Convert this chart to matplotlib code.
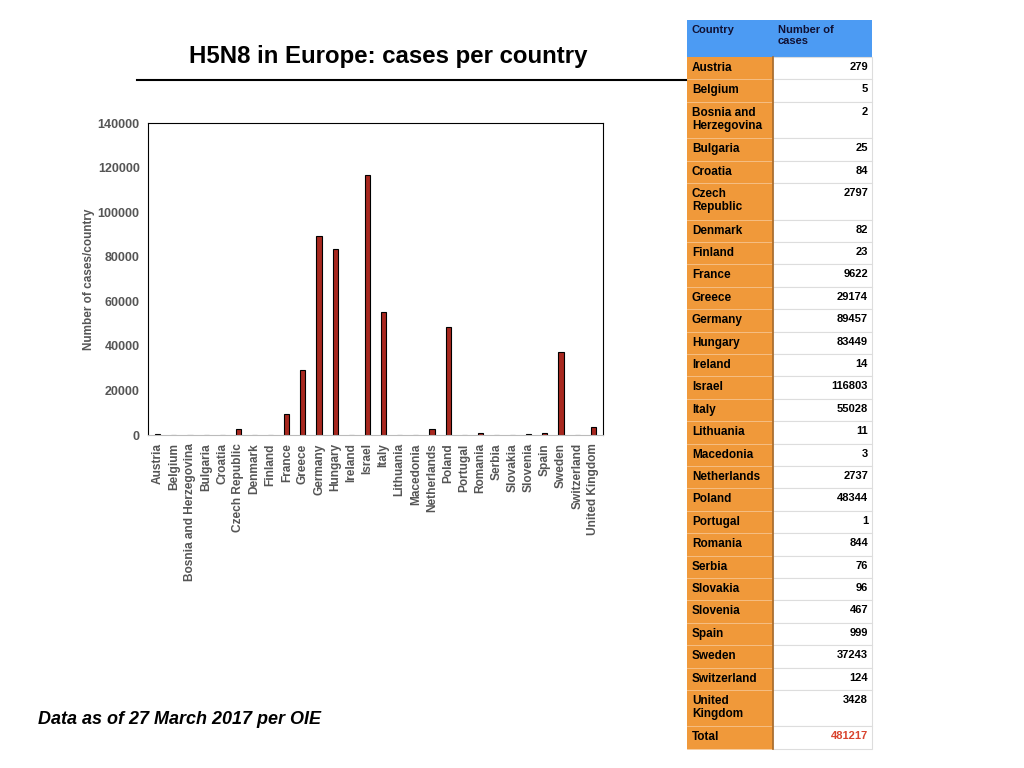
import numpy as np
import matplotlib
matplotlib.use('Agg')
import matplotlib.pyplot as plt
from matplotlib.patches import Rectangle

countries = ['Austria', 'Belgium', 'Bosnia and Herzegovina', 'Bulgaria', 'Croatia',
             'Czech Republic', 'Denmark', 'Finland', 'France', 'Greece', 'Germany',
             'Hungary', 'Ireland', 'Israel', 'Italy', 'Lithuania', 'Macedonia',
             'Netherlands', 'Poland', 'Portugal', 'Romania', 'Serbia', 'Slovakia',
             'Slovenia', 'Spain', 'Sweden', 'Switzerland', 'United Kingdom']
cases = [279, 5, 2, 25, 84, 2797, 82, 23, 9622, 29174, 89457, 83449, 14, 116803,
         55028, 11, 3, 2737, 48344, 1, 844, 76, 96, 467, 999, 37243, 124, 3428]
table_names = ['Austria', 'Belgium', 'Bosnia and\nHerzegovina', 'Bulgaria', 'Croatia',
               'Czech\nRepublic', 'Denmark', 'Finland', 'France', 'Greece', 'Germany',
               'Hungary', 'Ireland', 'Israel', 'Italy', 'Lithuania', 'Macedonia',
               'Netherlands', 'Poland', 'Portugal', 'Romania', 'Serbia', 'Slovakia',
               'Slovenia', 'Spain', 'Sweden', 'Switzerland', 'United\nKingdom']
total = 481217
yticks = [0, 20000, 40000, 60000, 80000, 100000, 120000, 140000]

plt.rcParams['font.family'] = ['Liberation Sans', 'DejaVu Sans']
W, H = 1024, 768
fig = plt.figure(figsize=(W / 100, H / 100), dpi=100)

# bar chart
ax = fig.add_axes([148 / W, 1 - 435 / H, (603 - 148) / W, (435 - 123) / H])
x = np.arange(len(countries))
ax.bar(x, cases, width=0.32, color='#A8281F', edgecolor='black', linewidth=0.8)
ax.set_xlim(-0.6, len(countries) - 0.4)
ax.set_ylim(0, 140000)
ax.set_yticks(yticks)
ax.set_yticklabels([str(v) for v in yticks], color='#555555', fontweight='bold', fontsize=9)
ax.set_xticks(x)
ax.set_xticklabels(countries, rotation=90, color='#555555', fontweight='bold', fontsize=8.6)
ax.tick_params(length=0, pad=6)
ax.set_ylabel('Number of cases/country', color='#555555', fontweight='bold', fontsize=8.5, labelpad=1.5)
for s in ax.spines.values():
    s.set_linewidth(0.8)
ax.spines['bottom'].set_color('#bbbbbb')

# overlay in pixel coords
ov = fig.add_axes([0, 0, 1, 1])
ov.set_xlim(0, W)
ov.set_ylim(H, 0)
ov.axis('off')

ov.text(388, 57, 'H5N8 in Europe: cases per country', ha='center', va='center',
        fontsize=17.3, fontweight='bold')
ov.plot([137, 686], [80, 80], color='black', lw=1.5)
ov.text(38, 720, 'Data as of 27 March 2017 per OIE', ha='left', va='center',
        fontsize=13, fontweight='bold', style='italic')

# table
x0, x1, x2 = 687, 773, 872
orange = '#F0993A'
blue = '#4C9BF3'
ov.add_patch(Rectangle((x0, 20), x2 - x0, 37, facecolor=blue, edgecolor='none'))
ov.text(x0 + 5, 25, 'Country', ha='left', va='top', fontsize=8, fontweight='bold', color='#111133')
ov.text(x1 + 5, 25, 'Number of\ncases', ha='left', va='top', fontsize=8, fontweight='bold',
        color='#111133', linespacing=1.1)

rows = list(zip(table_names, [str(v) for v in cases])) + [('Total', str(total))]
y = 57
for name, val in rows:
    h = 36.5 if '\n' in name else 22.4
    ov.add_patch(Rectangle((x0, y), x1 - x0, h, facecolor=orange, edgecolor='none'))
    ov.add_patch(Rectangle((x1, y), x2 - x1, h, facecolor='white', edgecolor='#dddddd', lw=0.8))
    ov.plot([x0, x1], [y + h, y + h], color='#f6c58f', lw=0.6)
    ov.text(x0 + 5, y + 5, name, ha='left', va='top', fontsize=8.5, fontweight='bold',
            linespacing=1.1)
    ov.text(x2 - 4, y + 5, val, ha='right', va='top', fontsize=8, fontweight='bold',
            color='#D9442E' if name == 'Total' else 'black')
    y += h
ov.plot([x1, x1], [57, y], color='#a86a2a', lw=1.2)

fig.savefig('out.png', dpi=100)
